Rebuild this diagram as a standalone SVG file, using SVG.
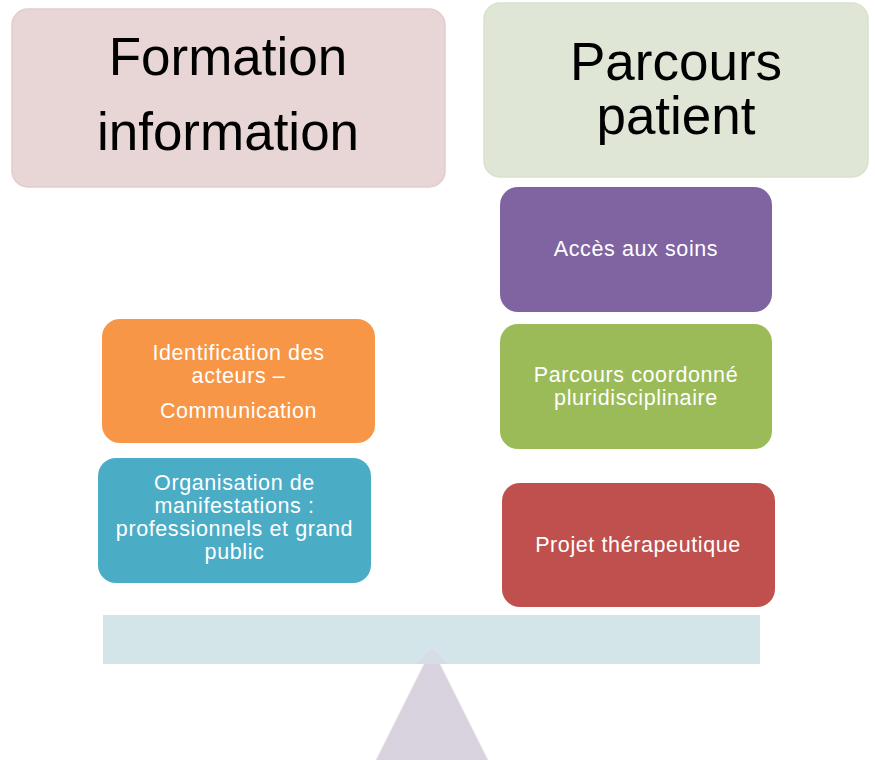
<svg xmlns="http://www.w3.org/2000/svg" width="875" height="760" viewBox="0 0 875 760">
<style>
text{font-family:"Liberation Sans",Arial,sans-serif;text-anchor:middle}
.t{font-size:53px;fill:#000}
.s{font-size:21.5px;fill:#fff;letter-spacing:0.6px}
</style>
<rect width="875" height="760" fill="#fff"/>
<g id="formation">
<rect x="12" y="9" width="433" height="178" rx="16" fill="#e8d5d6" stroke="#e2cccd" stroke-width="1.5"/>
<text class="t" x="228" y="75">Formation</text>
<text class="t" x="228" y="150">information</text>
</g>
<g id="parcours-patient">
<rect x="484" y="3" width="384" height="174" rx="16" fill="#dfe6d6" stroke="#d8e2cd" stroke-width="1.5"/>
<text class="t" x="676" y="80">Parcours</text>
<text class="t" x="676" y="134">patient</text>
</g>
<g id="acces">
<rect x="500" y="187" width="272" height="125" rx="18" fill="#8064a2"/>
<text class="s" x="636" y="256">Accès aux soins</text>
</g>
<g id="parcours-coordonne">
<rect x="500" y="324" width="272" height="125" rx="18" fill="#9bbb59"/>
<text class="s" x="636" y="382">Parcours coordonné</text>
<text class="s" x="636" y="405">pluridisciplinaire</text>
</g>
<g id="projet">
<rect x="502" y="483" width="273" height="124" rx="18" fill="#c0504d"/>
<text class="s" x="638" y="552">Projet thérapeutique</text>
</g>
<g id="identification">
<rect x="102" y="319" width="273" height="124" rx="18" fill="#f79646"/>
<text class="s" x="238.5" y="360">Identification des</text>
<text class="s" x="238.5" y="383">acteurs –</text>
<text class="s" x="238.5" y="418">Communication</text>
</g>
<g id="organisation">
<rect x="98" y="458" width="273" height="125" rx="18" fill="#4bacc6"/>
<text class="s" x="234.5" y="490">Organisation de</text>
<text class="s" x="234.5" y="513">manifestations :</text>
<text class="s" x="234.5" y="536">professionnels et grand</text>
<text class="s" x="234.5" y="559">public</text>
</g>
<g id="balance">
<rect x="103" y="615" width="657" height="49" fill="#d4e5ea"/>
<polygon points="432,648 376,760 488,760" fill="#d9d3e0"/>
<polygon points="432,648 415.5,664 448.5,664" fill="#d6dde6"/>
</g>
<g id="connectors"></g>
</svg>
